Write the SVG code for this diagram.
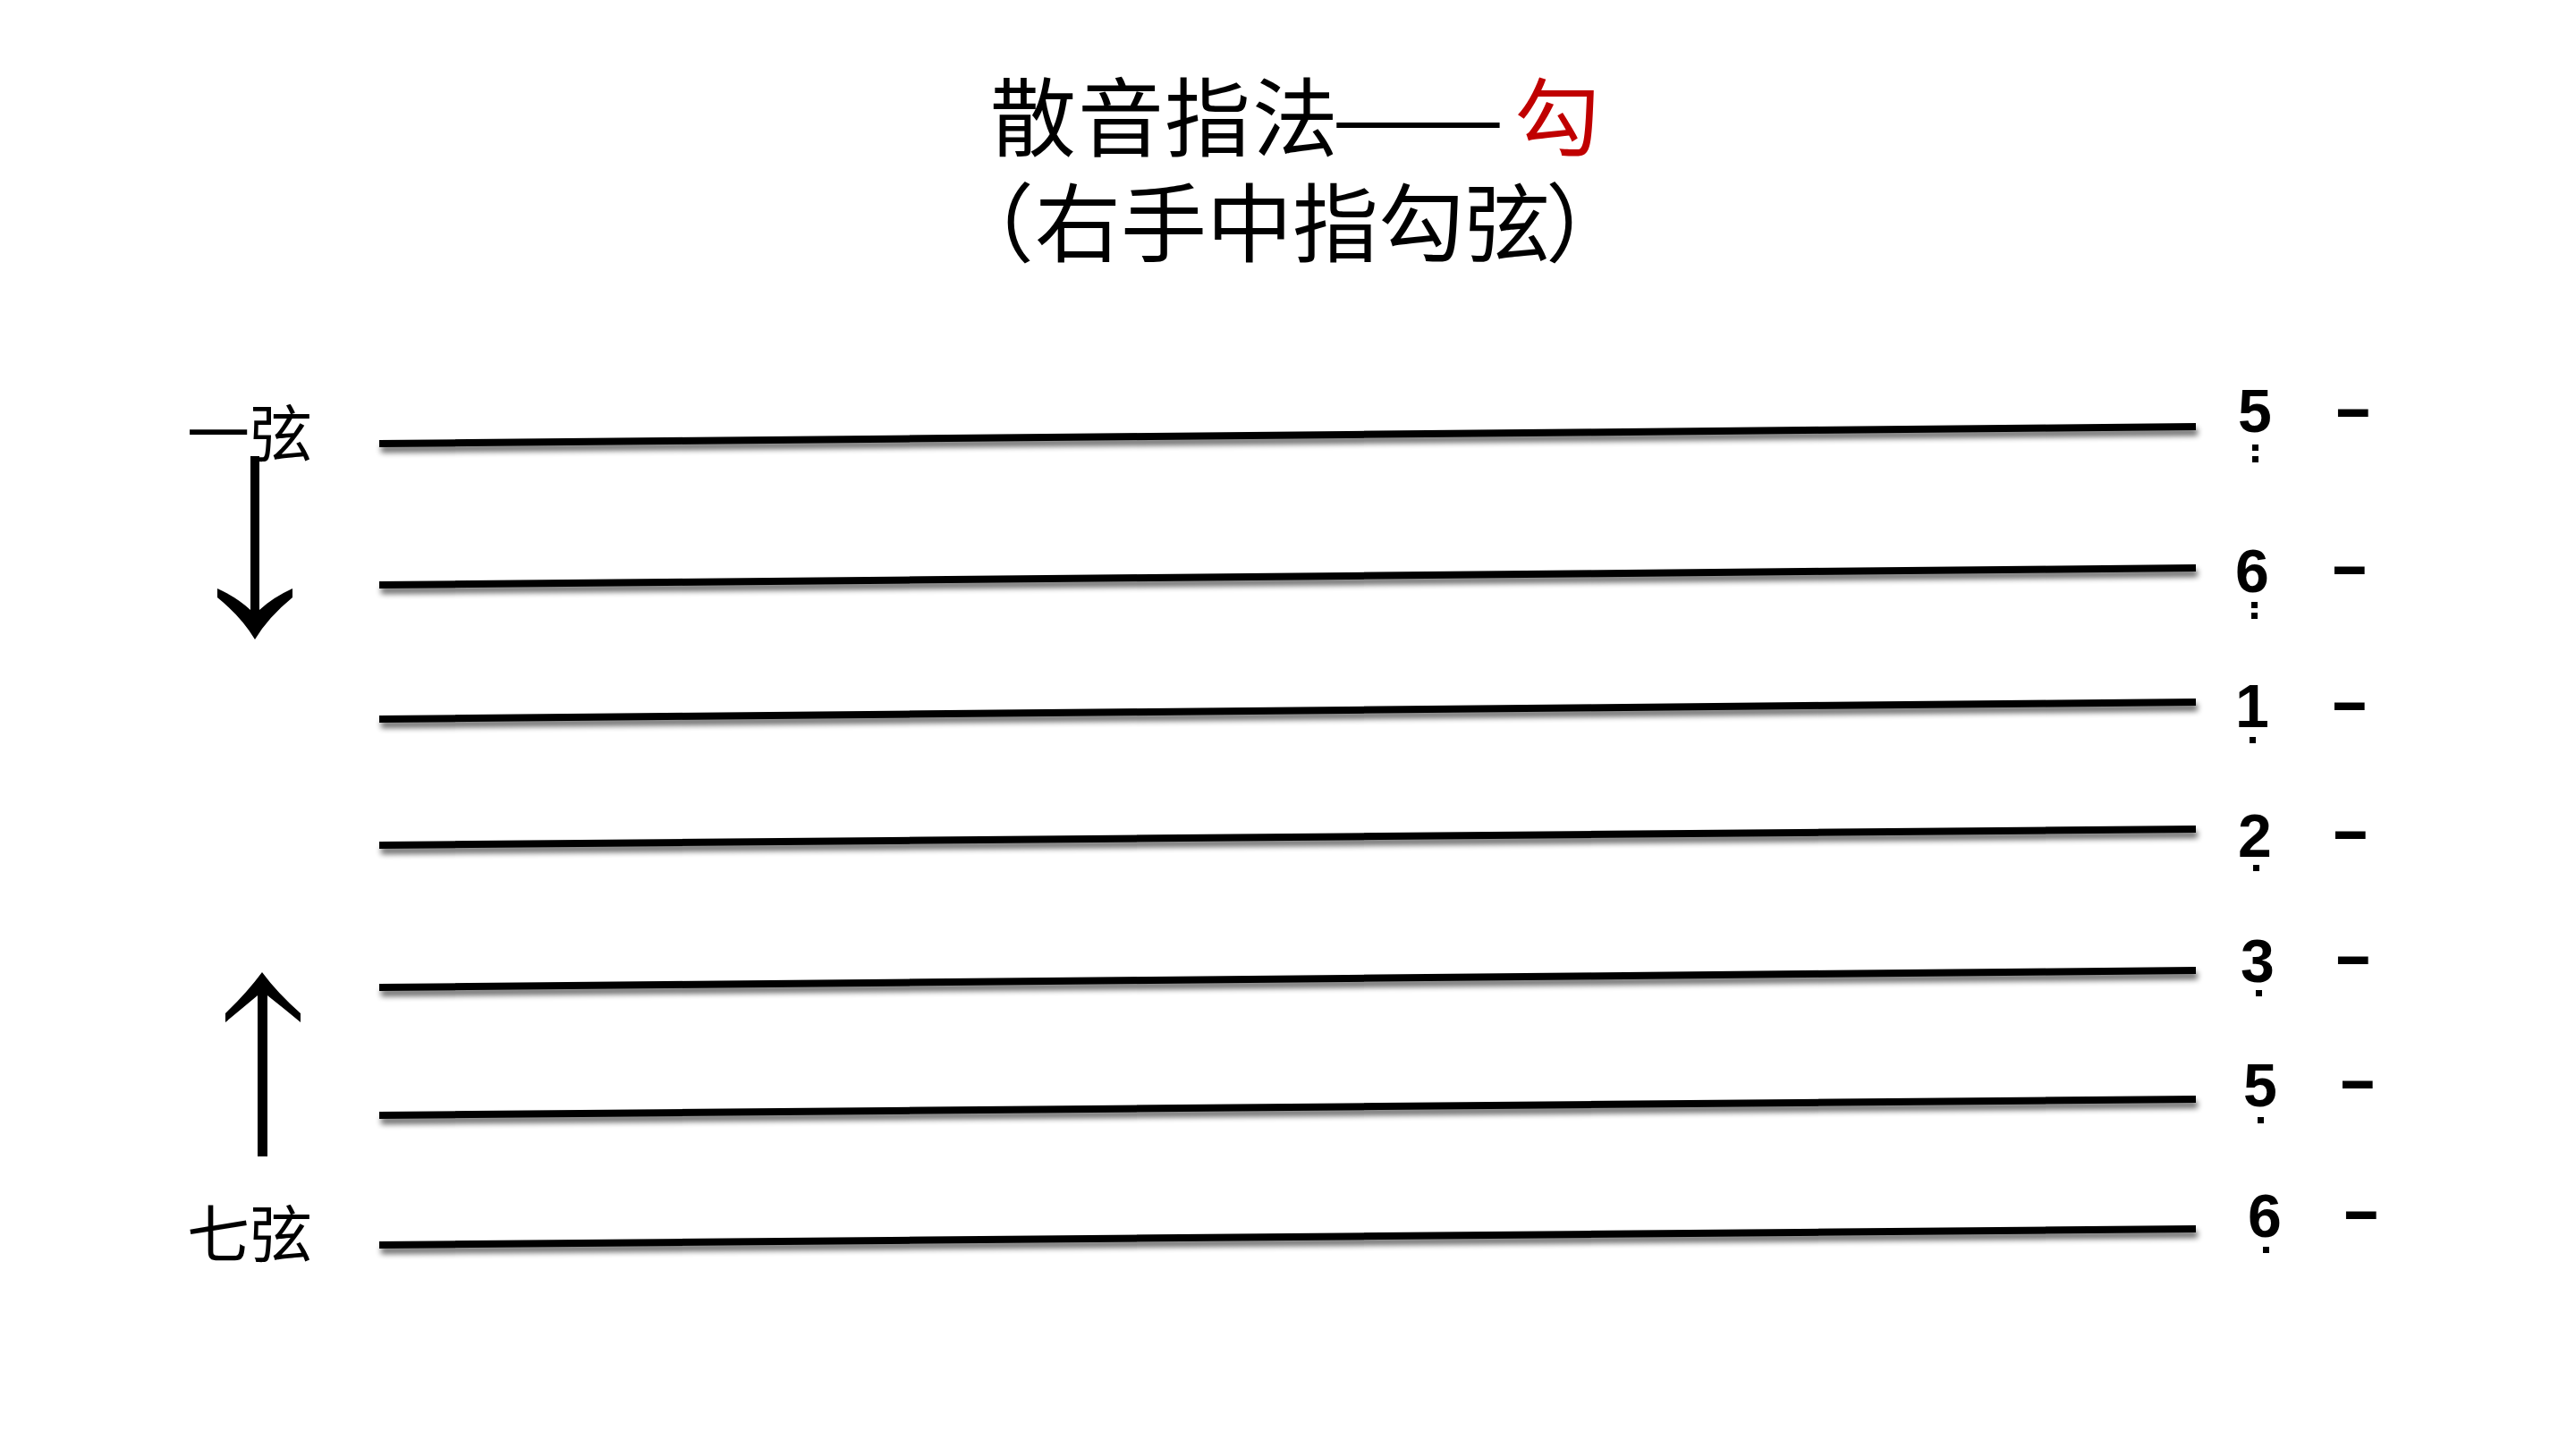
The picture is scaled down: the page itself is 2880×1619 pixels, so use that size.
<svg xmlns="http://www.w3.org/2000/svg" width="2880" height="1619" viewBox="0 0 2880 1619">
<defs>
<style>
.title{font-family:"Noto Sans CJK SC","Noto Sans CJK TC",sans-serif;font-size:96px;fill:#000;text-spacing-trim:space-all}
.red{fill:#c00000}
.lbl{font-family:"Noto Sans CJK SC","Noto Sans CJK TC",serif;font-size:70px;fill:#000}
.num{font-family:"Liberation Sans",Arial,sans-serif;font-weight:bold;font-size:68px;fill:#000;text-anchor:middle}
.dash{font-family:"Liberation Sans",Arial,sans-serif;font-weight:bold;font-size:64px;fill:#000;stroke:#000;stroke-width:2}
.str{stroke:#000;stroke-width:8;fill:none;filter:url(#sh)}
.dot{fill:#000}
.arrow{fill:#000;stroke:none}
</style>
<filter id="sh" x="-2%" y="-100%" width="104%" height="400%">
<feGaussianBlur in="SourceAlpha" stdDeviation="3"/>
<feOffset dx="2" dy="6" result="b"/>
<feComponentTransfer in="b" result="c"><feFuncA type="linear" slope="0.6"/></feComponentTransfer>
<feMerge><feMergeNode in="c"/><feMergeNode in="SourceGraphic"/></feMerge>
</filter>
</defs>
<rect width="2880" height="1619" fill="#fff"/>

<g id="title">
<text class="title" y="167"><tspan x="1107">散</tspan><tspan x="1205">音</tspan><tspan x="1302">指</tspan><tspan x="1400">法</tspan></text>
<text class="title" x="1489" y="167" textLength="193" lengthAdjust="spacingAndGlyphs">——</text>
<text class="title red" x="1693" y="167">勾</text>
<text class="title" y="285"><tspan x="1060">（</tspan><tspan x="1157">右</tspan><tspan x="1253">手</tspan><tspan x="1349">中</tspan><tspan x="1445">指</tspan><tspan x="1541">勾</tspan><tspan x="1637">弦</tspan><tspan x="1728">）</tspan></text>
</g>

<g id="label-string1"><text class="lbl" x="209" y="511">一弦</text></g>
<g id="label-string7"><text class="lbl" x="209" y="1406">七弦</text></g>

<g id="string1">
<line class="str" x1="424" y1="496" x2="2455" y2="477"/>
<text class="num" x="2521" y="483">5</text>
<rect class="dot" x="2518" y="497" width="7" height="7"/><rect class="dot" x="2518" y="510" width="7" height="7"/>
<text class="dash" x="2613" y="479">–</text>
</g>
<g id="string2">
<line class="str" x1="424" y1="654" x2="2455" y2="635"/>
<text class="num" x="2518" y="662">6</text>
<rect class="dot" x="2517" y="673" width="7" height="7"/><rect class="dot" x="2517" y="685" width="7" height="7"/>
<text class="dash" x="2609" y="655">–</text>
</g>
<g id="string3">
<line class="str" x1="424" y1="804" x2="2455" y2="785"/>
<text class="num" x="2518" y="813">1</text>
<rect class="dot" x="2515" y="824" width="7" height="7"/>
<text class="dash" x="2609" y="807">–</text>
</g>
<g id="string4">
<line class="str" x1="424" y1="945" x2="2455" y2="927"/>
<text class="num" x="2521" y="958">2</text>
<rect class="dot" x="2519" y="967" width="7" height="7"/>
<text class="dash" x="2610" y="951">–</text>
</g>
<g id="string5">
<line class="str" x1="424" y1="1104" x2="2455" y2="1085"/>
<text class="num" x="2524" y="1098">3</text>
<rect class="dot" x="2522" y="1107" width="7" height="7"/>
<text class="dash" x="2613" y="1091">–</text>
</g>
<g id="string6">
<line class="str" x1="424" y1="1247" x2="2455" y2="1229"/>
<text class="num" x="2527" y="1237">5</text>
<rect class="dot" x="2524" y="1249" width="7" height="7"/>
<text class="dash" x="2618" y="1230">–</text>
</g>
<g id="string7">
<line class="str" x1="424" y1="1392" x2="2455" y2="1374"/>
<text class="num" x="2532" y="1383">6</text>
<rect class="dot" x="2530" y="1394" width="7" height="7"/>
<text class="dash" x="2622" y="1376">–</text>
</g>

<g id="connectors">
<path class="arrow" d="M 280 510 L 290 510 L 290 682 Q 305 668 327 658 L 327 668 Q 300 690 285 715 Q 270 690 243 668 L 243 658 Q 265 668 280 682 Z"/>
<path class="arrow" d="M 288 1293 L 299 1293 L 299 1113 Q 318 1128 336 1143 L 336 1133 Q 310 1110 293 1087 Q 276 1110 252 1133 L 252 1143 Q 270 1128 288 1113 Z"/>
</g>
</svg>
